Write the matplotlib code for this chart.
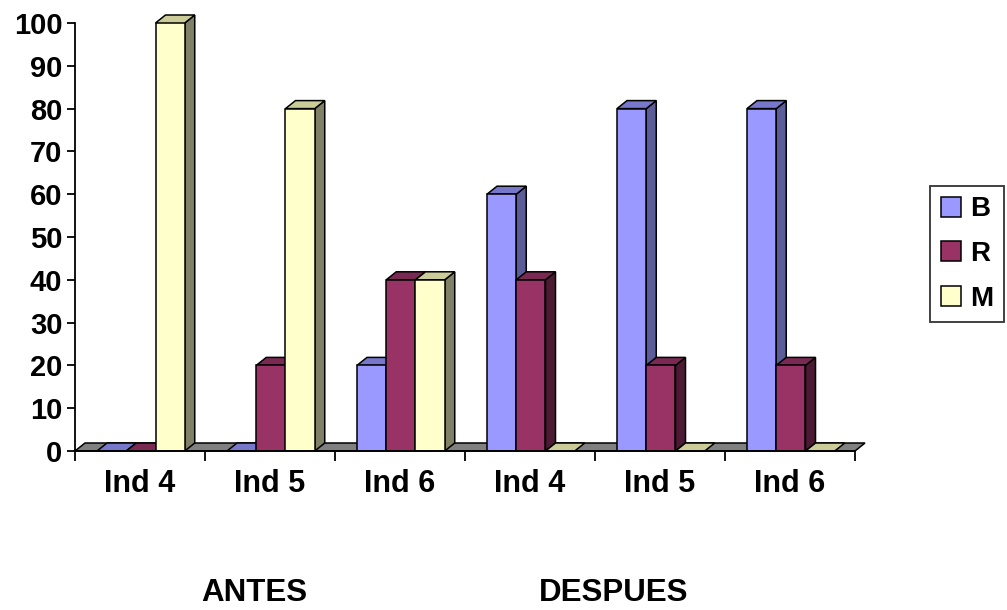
import matplotlib
matplotlib.use("Agg")
import matplotlib.pyplot as plt
from matplotlib.patches import Polygon, Patch

categories = ["Ind 4", "Ind 5", "Ind 6", "Ind 4", "Ind 5", "Ind 6"]
groups = ["ANTES", "DESPUES"]
series_names = ["B", "R", "M"]
B = [0, 0, 20, 60, 80, 80]
R = [0, 20, 40, 40, 20, 20]
M = [100, 80, 40, 0, 0, 0]
values = [B, R, M]
yticks = list(range(0, 101, 10))

front = ["#9999FF", "#993366", "#FFFFCC"]
side = ["#5c5c99", "#4d1a33", "#808066"]
top = ["#7777cc", "#7a2952", "#cccc99"]
floor_c = "#808080"

plt.rcParams["font.family"] = ["Liberation Sans", "DejaVu Sans"]
plt.rcParams["font.weight"] = "bold"

fig = plt.figure(figsize=(10.07, 6.10), dpi=100)
ax = fig.add_axes([75 / 1007, (610 - 451) / 610, 780 / 1007, 428 / 610])
ax.set_xlim(0, len(categories))
ax.set_ylim(0, 100)

# depth offset in data units (approx 10 px right, 8 px up)
dx = 10 / 130
dy = 8 / 4.28
lw = 1.1
bw = 0.225
start = 22 / 130

n = len(categories)
ax.add_patch(Polygon([(0, 0), (n, 0), (n + dx, dy), (dx, dy)], closed=True,
                     facecolor=floor_c, edgecolor="black", lw=lw, zorder=1, clip_on=False))

z = 2
for i in range(n):
    for s in range(3):
        v = values[s][i]
        x0 = i + start + s * bw
        x1 = x0 + bw
        if v > 0:
            ax.add_patch(Polygon([(x1, 0), (x1 + dx, dy), (x1 + dx, v + dy), (x1, v)], closed=True,
                                 facecolor=side[s], edgecolor="black", lw=lw, zorder=z, clip_on=False))
        ax.add_patch(Polygon([(x0, v), (x1, v), (x1 + dx, v + dy), (x0 + dx, v + dy)], closed=True,
                             facecolor=top[s], edgecolor="black", lw=lw, zorder=z, clip_on=False))
        if v > 0:
            ax.bar(x0, v, width=bw, align="edge", color=front[s], edgecolor="black",
                   linewidth=lw, zorder=z + 0.5)
        z += 1

ax.spines["top"].set_visible(False)
ax.spines["right"].set_visible(False)
ax.spines["left"].set_linewidth(1.3)
ax.spines["bottom"].set_linewidth(1.3)
ax.spines["bottom"].set_zorder(200)

ax.set_yticks(yticks)
ax.set_yticklabels([str(t) for t in yticks], fontsize=21, fontweight="bold")
ax.set_xticks(range(n + 1))
ax.set_xticklabels([""] * (n + 1))
ax.set_xticks([i + 0.5 for i in range(n)], minor=True)
ax.set_xticklabels(categories, minor=True, fontsize=22, fontweight="bold")
ax.tick_params(axis="x", which="minor", length=0, pad=13)
ax.tick_params(axis="x", which="major", length=7, width=1.3, direction="out")
ax.tick_params(axis="y", length=6, width=1.3, pad=3)

fig.text(254 / 1007, 1 - 593 / 610, groups[0], ha="center", va="center", fontsize=22.5, fontweight="bold")
fig.text(614 / 1007, 1 - 593 / 610, groups[1], ha="center", va="center", fontsize=22.5, fontweight="bold")

handles = [Patch(facecolor=front[k], edgecolor="black", linewidth=1.1) for k in range(3)]
leg = fig.legend(handles, series_names, loc="center", bbox_to_anchor=(967 / 1007, 1 - 254 / 610),
                 frameon=True, fancybox=False, shadow=False,
                 handlelength=0.75, handleheight=0.75, handletextpad=0.32,
                 labelspacing=0.67, borderpad=0.38, prop={"weight": "bold", "size": 20})
leg.get_frame().set_edgecolor("black")
leg.get_frame().set_linewidth(1.3)

fig.savefig("out.png", dpi=100)
